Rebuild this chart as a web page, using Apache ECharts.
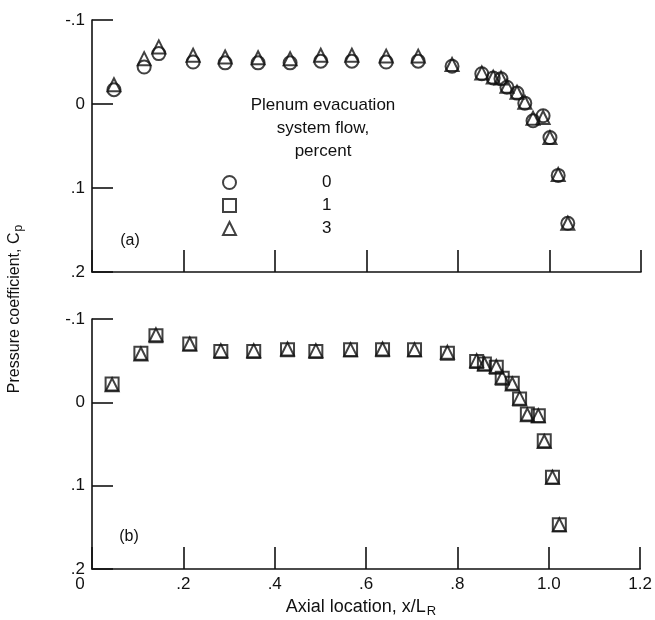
<!DOCTYPE html>
<html>
<head>
<meta charset="utf-8">
<script src="https://cdn.jsdelivr.net/npm/echarts@6/dist/echarts.min.js"></script>
<style>
  html, body { margin: 0; padding: 0; background: #fff; }
  #chart { width: 655px; height: 620px; }
</style>
</head>
<body>
<div id="chart"></div>
<script>
// tick labels
var xTickLabels = ['0', '.2', '.4', '.6', '.8', '1.0', '1.2'];
var yTickLabels = ['-.1', '0', '.1', '.2'];

// panel (a): plenum flow 0 and 3 percent
var xA = [0.048, 0.114, 0.146, 0.221, 0.291, 0.363, 0.433, 0.500, 0.568, 0.643, 0.713, 0.787,
          0.852, 0.877, 0.894, 0.907, 0.929, 0.946, 0.964, 0.986, 1.001, 1.019, 1.040];
var cpA0 = [-0.017, -0.044, -0.060, -0.050, -0.049, -0.049, -0.049, -0.051, -0.051, -0.050, -0.051, -0.045,
            -0.036, -0.031, -0.030, -0.020, -0.013, -0.001, 0.020, 0.014, 0.040, 0.085, 0.142];
var cpA3 = [-0.023, -0.054, -0.068, -0.058, -0.056, -0.055, -0.054, -0.058, -0.058, -0.057, -0.057, -0.047,
            -0.037, -0.032, -0.031, -0.021, -0.014, -0.002, 0.017, 0.016, 0.040, 0.084, 0.142];

// panel (b): plenum flow 1 and 3 percent
var xB = [0.044, 0.107, 0.140, 0.214, 0.282, 0.354, 0.428, 0.490, 0.566, 0.636, 0.706, 0.778,
          0.842, 0.859, 0.885, 0.898, 0.920, 0.936, 0.953, 0.977, 0.990, 1.008, 1.023];
var cpB1 = [-0.022, -0.059, -0.080, -0.070, -0.061, -0.061, -0.063, -0.061, -0.063, -0.063, -0.063, -0.059,
            -0.049, -0.046, -0.042, -0.029, -0.023, -0.004, 0.014, 0.016, 0.046, 0.090, 0.147];
var cpB3 = [-0.021, -0.058, -0.081, -0.070, -0.062, -0.062, -0.064, -0.062, -0.063, -0.064, -0.063, -0.060,
            -0.050, -0.046, -0.043, -0.030, -0.022, -0.005, 0.015, 0.016, 0.047, 0.090, 0.147];

var FONT = '"Liberation Sans", Arial, sans-serif';
var INK = '#111';

function pairs(xs, ys) {
  var out = [];
  for (var i = 0; i < xs.length; i++) out.push([xs[i], ys[i]]);
  return out;
}

function xAxisOf(idx, showLabels) {
  return {
    gridIndex: idx, type: 'value', min: 0, max: 1.2, interval: 0.2,
    axisLine: { show: true, onZero: false, lineStyle: { color: INK, width: 1.6 } },
    axisTick: { show: true, inside: true, length: 22, lineStyle: { color: INK, width: 1.6 } },
    splitLine: { show: false },
    axisLabel: {
      show: showLabels, margin: 7, color: INK, fontSize: 17, fontFamily: FONT,
      showMinLabel: true, showMaxLabel: true,
      formatter: function (v) {
        var i = Math.round(v / 0.2);
        if (i === 0) return '{z|' + xTickLabels[0] + '}';
        return xTickLabels[i];
      },
      rich: { z: { fontSize: 17, fontFamily: FONT, color: INK, padding: [0, 24, 0, 0] } }
    }
  };
}

function yAxisOf(idx) {
  return {
    gridIndex: idx, type: 'value', inverse: true, min: -0.1, max: 0.2, interval: 0.1,
    axisLine: { show: true, onZero: false, lineStyle: { color: INK, width: 1.6 } },
    axisTick: { show: true, inside: true, length: 21, lineStyle: { color: INK, width: 1.6 } },
    splitLine: { show: false },
    axisLabel: {
      margin: 7, color: INK, fontSize: 17, fontFamily: FONT,
      showMinLabel: true, showMaxLabel: true,
      formatter: function (v) { return yTickLabels[Math.round(v * 10) + 1]; }
    }
  };
}

function markers(name, symbol, xi, yi, data) {
  return {
    name: name, type: 'scatter', xAxisIndex: xi, yAxisIndex: yi,
    symbol: symbol, symbolSize: 13, data: data,
    itemStyle: { color: 'rgba(0,0,0,0)', borderColor: INK, borderWidth: 2 },
    emphasis: { disabled: true }
  };
}

var chart = echarts.init(document.getElementById('chart'));
chart.setOption({
  backgroundColor: '#fff',
  animation: false,
  grid: [
    { left: 92, top: 20, width: 549, height: 252 },
    { left: 92, top: 319, width: 549, height: 250 }
  ],
  xAxis: [xAxisOf(0, false), xAxisOf(1, true)],
  yAxis: [yAxisOf(0), yAxisOf(1)],
  legend: {
    left: 217, top: 169, orient: 'vertical', selectedMode: false,
    itemWidth: 13, itemHeight: 13, itemGap: 6,
    data: [{ name: '0', icon: 'circle' }, { name: '1', icon: 'rect' }, { name: '3', icon: 'triangle' }],
    itemStyle: { color: 'rgba(0,0,0,0)', borderColor: INK, borderWidth: 2 },
    textStyle: { color: INK, fontSize: 17, fontFamily: FONT, padding: [0, 0, 0, 81] }
  },
  graphic: [
    { type: 'text', x: 323, y: 105,
      style: { text: 'Plenum evacuation\nsystem flow,\npercent', fill: INK, font: '17px ' + FONT,
               lineHeight: 23, align: 'center', verticalAlign: 'top', y: -11 } },
    { type: 'text', x: 130, y: 241,
      style: { text: '(a)', fill: INK, font: '16px ' + FONT, align: 'center', verticalAlign: 'middle' } },
    { type: 'text', x: 129, y: 537,
      style: { text: '(b)', fill: INK, font: '16px ' + FONT, align: 'center', verticalAlign: 'middle' } },
    { type: 'text', x: 15, y: 309, rotation: Math.PI / 2,
      style: { text: 'Pressure coefficient, C{s|p}', fill: INK, font: '16px ' + FONT,
               align: 'center', verticalAlign: 'middle',
               rich: { s: { fontSize: 12, fontFamily: FONT, fill: INK, padding: [8, 0, 0, 1] } } } },
    { type: 'text', x: 361, y: 607,
      style: { text: 'Axial location, x/L{s|R}', fill: INK, font: '18px ' + FONT,
               align: 'center', verticalAlign: 'middle',
               rich: { s: { fontSize: 13, fontFamily: FONT, fill: INK, padding: [9, 0, 0, 1] } } } }
  ],
  series: [
    markers('0', 'circle', 0, 0, pairs(xA, cpA0)),
    markers('3', 'triangle', 0, 0, pairs(xA, cpA3)),
    markers('1', 'rect', 1, 1, pairs(xB, cpB1)),
    markers('3', 'triangle', 1, 1, pairs(xB, cpB3))
  ]
});
</script>
</body>
</html>
